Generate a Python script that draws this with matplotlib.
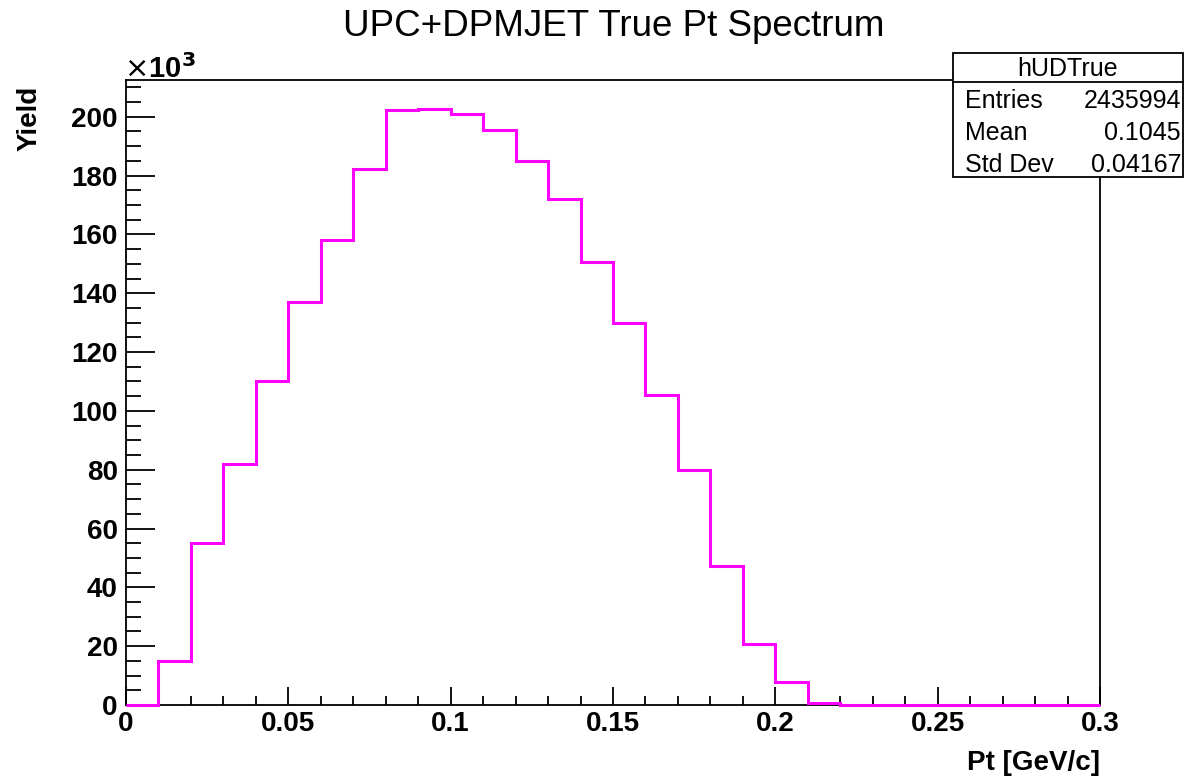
import numpy as np
import matplotlib.pyplot as plt
from matplotlib.patches import Rectangle
from matplotlib.lines import Line2D
from matplotlib.ticker import MultipleLocator

# histogram hUDTrue, 30 bins in Pt [GeV/c], yield in units of 10^3
bin_edges = np.linspace(0.0, 0.3, 31)
yield_k = [0.0, 15.0, 55.2, 81.8, 110.3, 137.0, 158.0, 182.4, 202.4, 202.8,
           201.0, 195.6, 185.0, 172.0, 150.5, 129.8, 105.5, 79.8, 47.3, 20.7,
           7.8, 0.8, 0.0, 0.0, 0.0, 0.0, 0.0, 0.0, 0.0, 0.0]

stat_names = ['Entries', 'Mean', 'Std Dev']
stat_values = ['2435994', '0.1045', '0.04167']

plt.rcParams['font.family'] = ['Liberation Sans', 'DejaVu Sans']

W, H = 1184, 779
fig = plt.figure(figsize=(W / 100, H / 100), dpi=100)
ax = fig.add_axes([126 / W, 1 - 705 / H, (1100 - 126) / W, (705 - 80) / H])

ax.stairs(yield_k, bin_edges, color='#ff00ff', linewidth=2.2, zorder=3, clip_on=False)

ax.set_xlim(0, 0.3)
ax.set_ylim(0, 212.5)
ax.xaxis.set_major_locator(MultipleLocator(0.05))
ax.xaxis.set_minor_locator(MultipleLocator(0.01))
ax.yaxis.set_major_locator(MultipleLocator(20))
ax.yaxis.set_minor_locator(MultipleLocator(5))
ax.xaxis.set_major_formatter(plt.FuncFormatter(lambda v, p: f'{v:g}'))
ax.tick_params(axis='both', which='both', direction='in', width=1.3,
               top=False, right=False, labelsize=20)
ax.tick_params(axis='x', which='major', length=13, pad=4)
ax.tick_params(axis='x', which='minor', length=6.5)
ax.tick_params(axis='y', which='major', length=21, pad=6)
ax.tick_params(axis='y', which='minor', length=10.5)
for lab in ax.get_xticklabels() + ax.get_yticklabels():
    lab.set_fontweight('bold')
for sp in ax.spines.values():
    sp.set_linewidth(1.3)

ax.set_xlabel('Pt [GeV/c]', fontsize=20, fontweight='bold', loc='right', labelpad=10)
fig.text(30 / W, 1 - 86 / H, 'Yield', fontsize=20, fontweight='bold', rotation=90,
         ha='center', va='top')

fig.text(124 / W, 1 - 69 / H, r'$\times$10$^{\mathbf{3}}$', fontsize=21, fontweight='bold',
         ha='left', va='center')
fig.text(614 / W, 1 - 27 / H, 'UPC+DPMJET True Pt Spectrum', fontsize=26.5,
         ha='center', va='center')

# stats box
bx0, bx1, by0, by1, bdiv = 953, 1183, 53, 177, 82
fig.patches.append(Rectangle((bx0 / W, 1 - by1 / H), (bx1 - bx0) / W, (by1 - by0) / H,
                             transform=fig.transFigure, facecolor='white',
                             edgecolor='black', linewidth=1.3, zorder=5))
fig.lines.append(Line2D([bx0 / W, bx1 / W], [1 - bdiv / H, 1 - bdiv / H],
                        transform=fig.transFigure, color='black', linewidth=1.3, zorder=6))
fig.text((bx0 + bx1) / 2 / W, 1 - 69 / H, 'hUDTrue', fontsize=18,
         ha='center', va='center', zorder=7)
for i, (n, v) in enumerate(zip(stat_names, stat_values)):
    yy = 1 - (101 + 32 * i) / H
    fig.text(965 / W, yy, n, fontsize=18, ha='left', va='center', zorder=7)
    fig.text(1181 / W, yy, v, fontsize=18, ha='right', va='center', zorder=7)

fig.savefig('out.png', dpi=100)
